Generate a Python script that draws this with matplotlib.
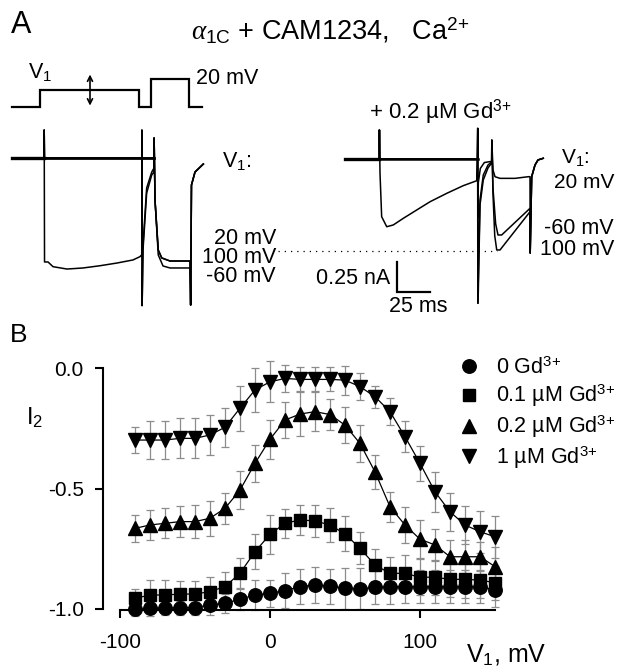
import matplotlib
matplotlib.use('Agg')
import matplotlib.pyplot as plt
from matplotlib.lines import Line2D

plt.rcParams['font.family'] = ['Liberation Sans', 'DejaVu Sans']
plt.rcParams['mathtext.fontset'] = 'custom'
plt.rcParams['mathtext.rm'] = 'Liberation Sans'
plt.rcParams['mathtext.it'] = 'Liberation Serif:italic'
plt.rcParams['mathtext.bf'] = 'Liberation Sans:bold'
plt.rcParams['axes.unicode_minus'] = False

W, H = 621, 671                 ## output size in pixels
PX_MS = 4 / 3                   ## pixels per ms in panel A
PX_NA = 118                     ## pixels per nA in panel A
PX_MV = 0.28                    ## pixels per mV in the protocol sketch

# ---------------- panel A data (time in ms, current in nA) ----------------
prot_t = [0, 21, 21, 95.25, 95.25, 104.25, 104.25, 132.75, 132.75, 142.3]
prot_v = [-80, -80, -20, -20, -80, -80, 20, 20, -80, -80]

left_t_20 = [0, 24, 24.15, 24.4, 27, 30.75, 41.25, 53.25, 66, 78.75, 90.75, 96, 97.3, 97.4, 97.6,
             98.25, 101, 104.8, 106.5, 106.6, 107.25, 109.7, 112.3, 118.5, 133.5, 134, 134.6, 137.25, 143.5]
left_i_20 = [0, 0, 0.237, -0.881, -0.881, -0.921, -0.941, -0.932, -0.913, -0.89, -0.864, -0.836, -0.82, 0.237, -1.251,
             -0.78, -0.297, -0.144, -0.119, 0.17, -0.356, -0.78, -0.847, -0.873, -0.873, -1.246, -0.229, -0.119, -0.051]
left_t_100 = [0, 24, 24.15, 24.4, 97.3, 97.4, 97.6, 98.25, 101, 104.8, 106.5, 106.6, 107.25, 109.7, 112.3,
              118.5, 133.5, 134, 134.6, 137.25, 143.5]
left_i_100 = [0, 0, 0.237, 0, 0, 0.237, -1.251, -0.737, -0.254, -0.119, -0.085, 0.17, -0.356, -0.78, -0.847,
              -0.873, -0.873, -1.246, -0.229, -0.119, -0.051]
left_t_m60 = [0, 24, 24.15, 24.4, 106.5, 106.6, 107.25, 109.7, 113.25, 118.5, 133.5, 134, 134.6, 137.25, 143.5]
left_i_m60 = [0, 0, 0.237, 0, 0, 0.17, -0.356, -0.822, -0.915, -0.932, -0.932, -1.246, -0.229, -0.119, -0.051]

right_t_20 = [-1.5, 24.2, 24.3, 24.75, 26.0, 29.8, 34.7, 42.2, 52.3, 62.3, 74.8, 87.2, 97.3, 98.0, 98.1, 99.75,
              102.2, 105.75, 108.5, 108.6, 109.5, 111.0, 114.75, 126.0, 136.0, 137.25, 137.4, 138.5, 141.0, 143.25, 147.2]
right_i_20 = [0, 0, 0.246, -0.119, -0.489, -0.574, -0.559, -0.503, -0.432, -0.362, -0.291, -0.226, -0.184, 0.26, -1.223,
              -0.347, -0.136, -0.051, -0.025, 0.16, -0.093, -0.15, -0.164, -0.164, -0.15, -0.15, -0.797, -0.15, -0.051,
              -0.008, 0.006]
right_t_m60 = [-1.5, 24.2, 24.3, 24.5, 98.0, 98.1, 98.5, 100, 103, 108.5, 108.6, 109.5, 111.5, 113.25, 116.0,
               137.25, 137.4, 138.5, 141.0, 143.25, 147.2]
right_i_m60 = [0, 0, 0.246, 0, 0, -0.5, -0.2, -0.08, -0.03, -0.02, 0.16, -0.25, -0.55, -0.644, -0.644,
               -0.418, -0.797, -0.15, -0.051, -0.008, 0.006]
right_t_100 = [-1.5, 24.2, 24.3, 24.5, 98.0, 98.1, 98.3, 99.75, 102.2, 105.75, 108.5, 108.6, 109.5, 110.8, 112.3,
               114.75, 137.25, 137.4, 138.5, 141.0, 143.25, 147.2]
right_i_100 = [0, 0, 0.246, 0, 0, 0.26, -1.223, -0.39, -0.178, -0.076, -0.034, 0.16, -0.3, -0.65, -0.771,
               -0.771, -0.447, -0.797, -0.15, -0.051, -0.008, 0.006]
ref_level = -0.78               ## dotted reference (nA)
ref_t = [-51.75, 112.5]

bar_t0, bar_ms = 37.3, 25       ## scale bar
bar_i0, bar_na = -1.125, 0.25

# ---------------- panel B data ----------------
v1 = [-90, -80, -70, -60, -50, -40, -30, -20, -10, 0, 10, 20, 30, 40, 50,
      60, 70, 80, 90, 100, 110, 120, 130, 140, 150]
i_0 = [-1.0, -0.998, -0.996, -0.995, -0.994, -0.983, -0.976, -0.960, -0.942, -0.935, -0.924, -0.907, -0.900,
       -0.905, -0.914, -0.916, -0.910, -0.908, -0.907, -0.907, -0.907, -0.907, -0.907, -0.907, -0.921]
e_0 = [0.03, 0.03, 0.03, 0.03, 0.03, 0.04, 0.04, 0.045, 0.062, 0.055, 0.073, 0.073, 0.076,
       0.073, 0.085, 0.085, 0.07, 0.07, 0.07, 0.07, 0.07, 0.07, 0.07, 0.07, 0.07]
i_01 = [-0.956, -0.942, -0.942, -0.938, -0.938, -0.928, -0.907, -0.852, -0.762, -0.690, -0.644, -0.630, -0.634,
        -0.651, -0.688, -0.748, -0.817, -0.852, -0.852, -0.868, -0.868, -0.877, -0.877, -0.880, -0.891]
e_01 = [0.04, 0.062, 0.062, 0.055, 0.055, 0.06, 0.06, 0.062, 0.073, 0.08, 0.06, 0.062, 0.066,
        0.07, 0.073, 0.066, 0.066, 0.066, 0.076, 0.076, 0.073, 0.073, 0.076, 0.076, 0.07]
i_02 = [-0.665, -0.651, -0.644, -0.637, -0.637, -0.623, -0.582, -0.506, -0.395, -0.295, -0.215, -0.190, -0.180,
        -0.192, -0.236, -0.312, -0.430, -0.575, -0.651, -0.710, -0.734, -0.783, -0.783, -0.783, -0.824]
e_02 = [0.055, 0.062, 0.062, 0.066, 0.07, 0.073, 0.066, 0.08, 0.078, 0.08, 0.076, 0.09, 0.08,
        0.066, 0.076, 0.076, 0.07, 0.062, 0.073, 0.08, 0.066, 0.07, 0.07, 0.06, 0.083]
i_1 = [-0.298, -0.298, -0.298, -0.291, -0.291, -0.277, -0.245, -0.166, -0.090, -0.056, -0.042, -0.046, -0.046,
       -0.046, -0.049, -0.076, -0.118, -0.180, -0.284, -0.395, -0.513, -0.596, -0.651, -0.679, -0.700]
e_1 = [0.055, 0.08, 0.08, 0.083, 0.083, 0.083, 0.08, 0.093, 0.09, 0.085, 0.055, 0.05, 0.05,
       0.05, 0.06, 0.055, 0.045, 0.055, 0.065, 0.072, 0.083, 0.08, 0.08, 0.087, 0.087]

series = [(i_0, e_0, 'o', 9.7, '0 Gd$^{3{+}}$'),
          (i_01, e_01, 's', 8.0, '0.1 µM Gd$^{3{+}}$'),
          (i_02, e_02, '^', 9.5, '0.2 µM Gd$^{3{+}}$'),
          (i_1, e_1, 'v', 9.5, '1 µM Gd$^{3{+}}$')]


def box(x0, y0, x1, y1):
    ## pixel box (top-left origin) -> figure fraction rect
    return [x0 / W, 1 - y1 / H, (x1 - x0) / W, (y1 - y0) / H]


def ftext(x, y, s, **kw):
    kw.setdefault('ha', 'center')
    kw.setdefault('va', 'center')
    kw.setdefault('fontsize', 15.5)
    fig.text(x / W, 1 - y / H, s, **kw)


fig = plt.figure(figsize=(W / 100, H / 100), dpi=100)

# voltage protocol
axp = fig.add_axes(box(0, 60, 300, 115))
axp.plot(prot_t, prot_v, color='k', lw=1.6, solid_joinstyle='miter')
axp.annotate('', xy=(58.5, 46), xytext=(58.5, -85),
             arrowprops=dict(arrowstyle='<->', lw=1.2, color='k', mutation_scale=9))
axp.set_xlim(-12 * 0.75, 288 * 0.75)
axp.set_ylim(-80 - 8 / PX_MV, -80 + 47 / PX_MV)
axp.axis('off')

# left traces (control)
axl = fig.add_axes(box(0, 100, 300, 320))
for t, i in [(left_t_m60, left_i_m60), (left_t_100, left_i_100), (left_t_20, left_i_20)]:
    axl.plot(t, i, color='k', lw=1.1)
axl.plot(left_t_m60[3:5], left_i_m60[3:5], color='k', lw=2.0)   ## noisy baseline looks thicker
axl.plot(left_t_m60[:2], left_i_m60[:2], color='k', lw=2.4)
axl.set_xlim(-12 / PX_MS, 288 / PX_MS)
axl.set_ylim(-162 / PX_NA, 58 / PX_NA)
axl.axis('off')

# right traces (+ Gd)
axr = fig.add_axes(box(270, 100, 621, 320))
for t, i in [(right_t_m60, right_i_m60), (right_t_100, right_i_100), (right_t_20, right_i_20)]:
    axr.plot(t, i, color='k', lw=1.1)
axr.plot(right_t_m60[:2], right_i_m60[:2], color='k', lw=2.4)
axr.plot(right_t_m60[3:5], right_i_m60[3:5], color='k', lw=1.8)
axr.plot(ref_t, [ref_level, ref_level], color='k', lw=0.9, ls=(0, (1, 4)))
axr.plot([bar_t0, bar_t0, bar_t0 + bar_ms], [bar_i0 + bar_na, bar_i0, bar_i0],
         color='k', lw=1.6, solid_joinstyle='miter')
axr.set_xlim(-77 / PX_MS, 274 / PX_MS)
axr.set_ylim(-161 / PX_NA, 59 / PX_NA)
axr.axis('off')

# panel A texts
ftext(21.5, 25, 'A', fontsize=22)
ftext(330, 31, r'$\alpha_{1\mathrm{C}}$ + CAM1234,   Ca$^{2{+}}$', fontsize=19.5)
ftext(28, 72, 'V$_1$', ha='left')
ftext(196, 78, '20 mV', ha='left')
ftext(222, 161, 'V$_1$:', ha='left')
ftext(276, 238, '20 mV', ha='right')
ftext(276, 258, '100 mV', ha='right')
ftext(276, 277, '-60 mV', ha='right')
ftext(440, 112, '+ 0.2 µM Gd$^{3{+}}$', fontsize=16)
ftext(561, 157, 'V$_1$:', ha='left', fontsize=15)
ftext(614, 183, '20 mV', ha='right', fontsize=15)
ftext(614, 228, '-60 mV', ha='right')
ftext(614, 250, '100 mV', ha='right')
ftext(390, 278, '0.25 nA', ha='right')
ftext(418, 307, '25 ms')

# ---------------- panel B ----------------
axb = fig.add_axes(box(103, 356.3, 510, 621))
for vals, errs, mk, ms, lab in series:
    axb.errorbar(v1, vals, yerr=errs, fmt='none', ecolor='#8c8c8c', elinewidth=0.9,
                 capsize=3, capthick=0.9, zorder=1, clip_on=False)
for vals, errs, mk, ms, lab in series:
    axb.plot(v1, vals, color='k', lw=0.9, marker=mk, markersize=ms,
             markerfacecolor='k', markeredgecolor='k', zorder=3, clip_on=False)

axb.set_xlim(-111.3, 160)
axb.set_ylim(-1.05, 0.05)
axb.spines['top'].set_visible(False)
axb.spines['right'].set_visible(False)
axb.spines['left'].set_bounds(-1.0, 0.0)
axb.spines['bottom'].set_bounds(-100, 150)
axb.spines['bottom'].set_position(('data', -1.004))
for s in ['left', 'bottom']:
    axb.spines[s].set_linewidth(1.5)
axb.set_yticks([0, -0.5, -1.0])
axb.set_yticklabels(['0.0', '-0.5', '-1.0'])
axb.set_xticks([-100, 0, 100])
axb.set_xticklabels(['-100', '0', '100'])
axb.tick_params(direction='out', length=5.8, width=1.5, labelsize=15)
axb.tick_params(axis='y', pad=8)
axb.tick_params(axis='x', pad=11)

handles = [Line2D([], [], ls='none', marker=mk, markersize=ms, color='k') for _, _, mk, ms, _ in series]
labels = [lab for *_, lab in series]
leg = fig.legend(handles, labels, loc='upper left', bbox_to_anchor=(458 / W, 1 - 357 / H),
                 frameon=False, fontsize=15.5, handlelength=1.0, handletextpad=0.75,
                 labelspacing=0.2, borderpad=0, borderaxespad=0)

ftext(19, 335, 'B', fontsize=19)
ftext(26, 425, 'I$_2$', ha='left', va='baseline', fontsize=17)
ftext(466, 662, 'V$_1$, mV', ha='left', va='baseline', fontsize=18)

plt.savefig('out.png', dpi=100)
